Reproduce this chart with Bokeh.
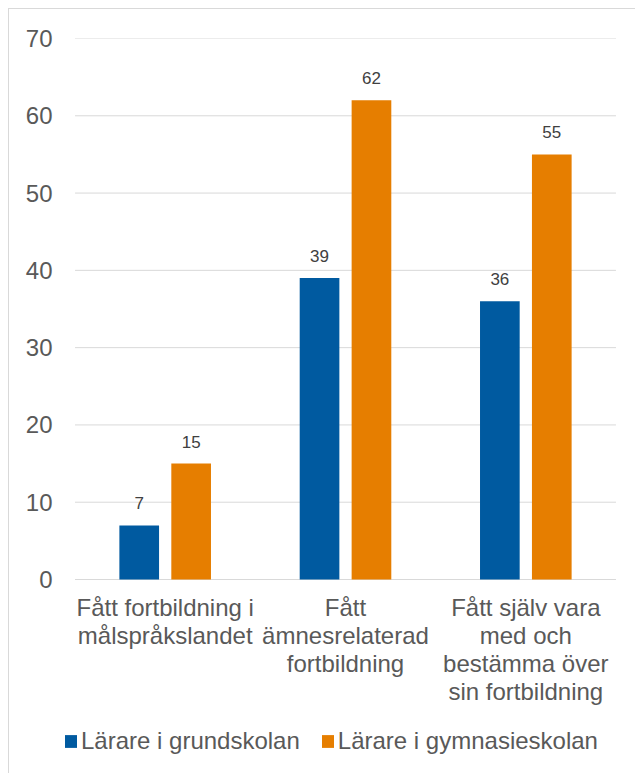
from bokeh.plotting import figure
from bokeh.models import ColumnDataSource, FactorRange, LabelSet, Legend, LegendItem, FixedTicker, Range1d
from bokeh.core.properties import value
from bokeh.transform import dodge
from bokeh.embed import file_html
from bokeh.resources import INLINE

categories = ["Fått fortbildning i\nmålspråkslandet",
              "Fått\nämnesrelaterad\nfortbildning",
              "Fått själv vara\nmed och\nbestämma över\nsin fortbildning"]
grundskolan = [7, 39, 36]
gymnasieskolan = [15, 62, 55]
series_names = ["Lärare i grundskolan", "Lärare i gymnasieskolan"]
y_ticks = [0, 10, 20, 30, 40, 50, 60, 70]

BLUE = "#005AA0"
ORANGE = "#E67E00"
GRID = "#d9d9d9"
FONT = "Liberation Sans"

# frame geometry (px): the value axis 0..70 uses the top 541 px of the frame,
# the space below holds the category labels and the legend
W, H = 627, 765
TOP, LEFT, RIGHT = 29, 52, 7
PAD = 0.075
AXIS_PX = 541
frame_h = H - TOP
y_min = 70 - frame_h * 70 / AXIS_PX

src = ColumnDataSource(dict(
    cat=categories,
    g=grundskolan,
    y=gymnasieskolan,
    gt=[str(v) for v in grundskolan],
    yt=[str(v) for v in gymnasieskolan],
))
grid_src = ColumnDataSource(dict(
    y=y_ticks,
    c0=[categories[0]] * len(y_ticks),
    c1=[categories[-1]] * len(y_ticks),
))

xr = FactorRange(factors=categories, range_padding=PAD, range_padding_units="absolute")
p = figure(width=W, height=H, x_range=xr,
           y_range=Range1d(y_min, 70), output_backend="svg", toolbar_location=None, title=None,
           min_border_left=LEFT, min_border_right=RIGHT, min_border_top=TOP, min_border_bottom=0)
p.styles = {"margin-left": "8px", "margin-top": "8px",
            "border-left": "1px solid #d9d9d9", "border-top": "1px solid #d9d9d9"}
p.outline_line_color = None
p.background_fill_color = "white"
p.border_fill_color = "white"

# horizontal gridlines spanning the category band only
p.segment(x0=dodge("c0", -0.5, range=xr), x1=dodge("c1", 0.5, range=xr), y0="y", y1="y",
          source=grid_src, line_color=GRID, line_width=1)

r1 = p.vbar(x=dodge("cat", -0.144, range=xr), top="g", bottom=0, width=0.22, source=src,
            fill_color=BLUE, line_color=None)
r2 = p.vbar(x=dodge("cat", 0.144, range=xr), top="y", bottom=0, width=0.22, source=src,
            fill_color=ORANGE, line_color=None)

for col, txt, off in (("g", "gt", -0.144), ("y", "yt", 0.144)):
    ls = LabelSet(x=dodge("cat", off, range=xr), y=col, text=txt, source=src,
                  y_offset=16, text_align="center", text_baseline="alphabetic",
                  text_font=value(FONT), text_font_size=value("17px"),
                  text_color=value("#404040"))
    p.add_layout(ls)

p.xgrid.grid_line_color = None
p.ygrid.grid_line_color = None
p.yaxis.ticker = FixedTicker(ticks=y_ticks)
p.yaxis.axis_line_color = None
p.yaxis.major_tick_line_color = None
p.yaxis.minor_tick_line_color = None
p.yaxis.major_tick_out = 0
p.yaxis.major_label_standoff = 9
p.yaxis.major_label_text_font = FONT
p.yaxis.major_label_text_font_size = "24px"
p.yaxis.major_label_text_color = "#595959"

p.xaxis.fixed_location = 0
p.xaxis.axis_line_color = None
p.xaxis.major_tick_line_color = None
p.xaxis.major_tick_out = 0
p.xaxis.major_label_standoff = 14
p.xaxis.major_label_text_font = FONT
p.xaxis.major_label_text_font_size = "24px"
p.xaxis.major_label_text_color = "#595959"
p.xaxis.major_label_text_line_height = 1.045
p.xaxis.major_label_orientation = "horizontal"

legend = Legend(items=[LegendItem(label=series_names[0], renderers=[r1]),
                       LegendItem(label=series_names[1], renderers=[r2])],
                orientation="horizontal", location=(2, 19),
                padding=0, margin=0, spacing=20, label_standoff=3,
                glyph_width=15, glyph_height=16,
                label_text_font=FONT, label_text_font_size="24px",
                label_text_color="#595959",
                border_line_color=None, background_fill_alpha=0)
p.add_layout(legend, "center")

open("out.html", "w").write(file_html(p, INLINE))
